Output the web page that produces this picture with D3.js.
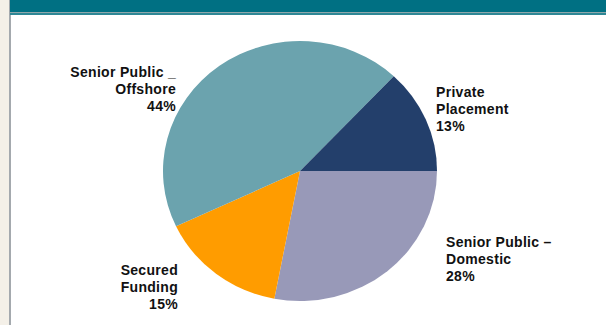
<!DOCTYPE html>
<html>
<head>
<meta charset="utf-8">
<script src="https://cdn.jsdelivr.net/npm/d3@7"></script>
<style>
  html, body { margin: 0; padding: 0; background: #fff; }
  svg { display: block; }
  .label { font-family: "Liberation Sans", Arial, sans-serif; font-weight: bold; font-size: 14px; letter-spacing: 0.3px; fill: #111; }
</style>
</head>
<body>
<div id="viz"></div>
<script>
const width = 606;
const height = 325;

// data, in drawing order starting at 3 o'clock and going clockwise
const categories = ['Senior Public – Domestic', 'Secured Funding', 'Senior Public _ Offshore', 'Private Placement'];
const shares = [28, 15, 44, 13];
const labelLines = [
  ['Senior Public –', 'Domestic', '28%'],
  ['Secured', 'Funding', '15%'],
  ['Senior Public _', 'Offshore', '44%'],
  ['Private', 'Placement', '13%']
];
const colors = ['#9899b8', '#ff9c00', '#6ba3ae', '#233f6b'];

// label placement relative to the pie centre: [dx, dy of first baseline, anchor]
const labelPlace = [
  [146, 76, 'start'],
  [-122, 104, 'end'],
  [-124, -94, 'end'],
  [136, -74, 'start']
];

const cx = 300, cy = 171;
const ry = 130, rx = 137;

const svg = d3.select('#viz')
  .append('svg')
    .attr('width', width)
    .attr('height', height);

// page frame
svg.append('rect').attr('x', 0).attr('y', 0).attr('width', 9).attr('height', height).attr('fill', '#f4f0e8');
svg.append('rect').attr('x', 9).attr('y', 0).attr('width', 2).attr('height', height).attr('fill', '#a4a9ae');
svg.append('rect').attr('x', 10).attr('y', 0).attr('width', width - 10).attr('height', 13).attr('fill', '#007083');
svg.append('rect').attr('x', 10).attr('y', 12).attr('width', width - 10).attr('height', 1).attr('fill', '#8fa7ab');
svg.append('rect').attr('x', 10).attr('y', 13).attr('width', width - 10).attr('height', 2).attr('fill', '#2e8795');

const pie = d3.pie()
  .sort(null)
  .startAngle(Math.PI / 2)
  .endAngle(Math.PI / 2 + 2 * Math.PI);

const arc = d3.arc()
  .innerRadius(0)
  .outerRadius(ry);

const slices = pie(shares);

svg.append('g')
    .attr('transform', `translate(${cx},${cy}) scale(${rx / ry},1)`)
  .selectAll('path')
  .data(slices)
  .join('path')
    .attr('d', arc)
    .attr('fill', (d, i) => colors[i]);

const labels = svg.append('g')
  .selectAll('text')
  .data(categories)
  .join('text')
    .attr('class', 'label')
    .attr('text-anchor', (d, i) => labelPlace[i][2])
    .attr('transform', (d, i) => `translate(${cx + labelPlace[i][0]},${cy + labelPlace[i][1]})`);

labels.selectAll('tspan')
  .data((d, i) => labelLines[i])
  .join('tspan')
    .attr('x', 0)
    .attr('y', (d, j) => j * 17)
    .text(d => d);
</script>
</body>
</html>
